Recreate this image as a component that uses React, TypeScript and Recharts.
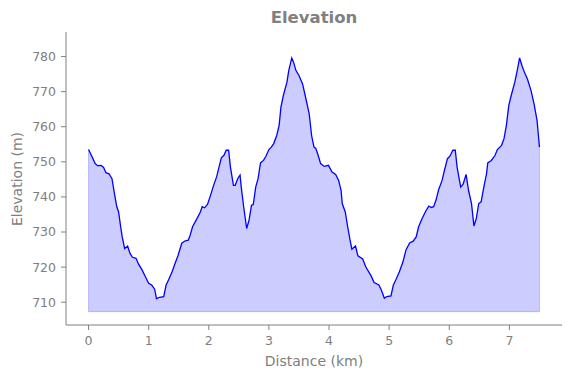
import React from 'react';
import {
  ComposedChart,
  Area,
  Line,
  XAxis,
  YAxis,
  ReferenceLine,
} from 'recharts';

// distance along the track (km) and elevation (m)
const distanceKm = [
  0, 0.06, 0.11, 0.15, 0.21, 0.25, 0.29, 0.34, 0.39, 0.43, 0.47, 0.5, 0.53, 0.56, 0.6, 0.65,
  0.69, 0.73, 0.79, 0.83, 0.89, 0.95, 1.0, 1.05, 1.1, 1.13, 1.18, 1.25, 1.29, 1.33, 1.39, 1.44,
  1.49, 1.55, 1.61, 1.66, 1.69, 1.73, 1.79, 1.86, 1.89, 1.93, 1.98, 2.03, 2.08, 2.13, 2.17, 2.21,
  2.25, 2.29, 2.33, 2.36, 2.41, 2.44, 2.48, 2.52, 2.54, 2.58, 2.63, 2.67, 2.71, 2.74, 2.78, 2.82,
  2.86, 2.91, 2.95, 3.0, 3.04, 3.08, 3.13, 3.17, 3.2, 3.24, 3.3, 3.33, 3.38, 3.41, 3.45, 3.5,
  3.56, 3.61, 3.67, 3.71, 3.75, 3.78, 3.82, 3.86, 3.92, 3.99, 4.05, 4.11, 4.16, 4.2, 4.22, 4.27,
  4.31, 4.35, 4.38, 4.44, 4.48, 4.56, 4.61, 4.7, 4.75, 4.83, 4.87, 4.92, 4.96, 5.03, 5.07, 5.11,
  5.17, 5.23, 5.28, 5.34, 5.4, 5.45, 5.49, 5.55, 5.61, 5.66, 5.7, 5.74, 5.78, 5.82, 5.88, 5.92,
  5.97, 6.01, 6.06, 6.1, 6.13, 6.19, 6.23, 6.28, 6.32, 6.37, 6.41, 6.45, 6.49, 6.53, 6.58, 6.62,
  6.64, 6.7, 6.76, 6.8, 6.87, 6.91, 6.95, 6.99, 7.03, 7.09, 7.13, 7.17, 7.21, 7.25, 7.3, 7.36,
  7.41, 7.46, 7.48, 7.5,
];

const elevationM = [
  753.5, 751.4, 749.5, 748.9, 749.0, 748.4, 746.9, 746.6, 745.2, 741.0, 737.2, 735.7, 732.0, 728.6, 725.3, 726.0,
  723.9, 722.8, 722.5, 720.9, 719.2, 717.1, 715.4, 714.9, 713.7, 711.0, 711.4, 711.6, 714.9, 716.3, 718.7, 721.1,
  723.4, 726.8, 727.5, 727.7, 729.1, 731.5, 733.4, 735.7, 737.2, 736.9, 737.9, 740.5, 743.3, 745.7, 748.5, 751.2,
  751.8, 753.3, 753.3, 748.5, 743.3, 743.3, 745.2, 746.2, 742.8, 737.2, 731.0, 733.4, 737.6, 737.8, 742.8, 745.2,
  749.7, 750.4, 751.6, 753.5, 754.2, 755.2, 757.5, 760.4, 765.6, 768.9, 772.7, 776.0, 779.6, 778.4, 776.0, 774.6,
  772.2, 768.4, 763.7, 757.5, 754.2, 753.8, 751.8, 749.5, 748.7, 749.0, 747.1, 746.4, 744.7, 741.9, 738.1, 735.7,
  731.5, 727.7, 725.1, 726.0, 723.2, 722.3, 720.1, 717.5, 715.6, 714.9, 713.5, 711.1, 711.6, 711.8, 714.9, 716.3,
  718.7, 721.5, 724.9, 726.9, 727.4, 728.6, 731.5, 733.9, 736.0, 737.4, 737.0, 737.2, 739.1, 741.9, 744.7, 747.6,
  750.9, 751.6, 753.3, 753.3, 748.5, 742.8, 743.6, 746.4, 741.9, 738.1, 731.7, 733.9, 738.1, 738.6, 743.3, 746.6,
  749.7, 750.4, 751.8, 753.5, 754.7, 756.6, 760.4, 766.1, 768.9, 772.7, 776.0, 779.6, 777.4, 775.5, 773.6, 770.3,
  766.5, 761.8, 758.0, 754.2,
];

const xTicks = [0, 1, 2, 3, 4, 5, 6, 7];
const yTicks = [710, 720, 730, 740, 750, 760, 770, 780];

const FILL_BASE = 707.3;
const GRAY = '#808080';
const FONT = '"DejaVu Sans", sans-serif';

const data = distanceKm.map((d, i) => ({ d, e: elevationM[i] }));
const first = data[0];
const last = data[data.length - 1];

const textStyle: React.CSSProperties = {
  position: 'absolute',
  fontFamily: FONT,
  color: GRAY,
  whiteSpace: 'nowrap',
  lineHeight: 1,
};

export default function App() {
  return (
    <div style={{ position: 'absolute', left: 0, top: 0, width: 571, height: 378, background: '#fff' }}>
      <ComposedChart
        width={571}
        height={378}
        data={data}
        margin={{ top: 32, right: 9, bottom: 0, left: 8 }}
      >
        <XAxis
          dataKey="d"
          type="number"
          domain={[-0.375, 7.875]}
          ticks={xTicks}
          allowDataOverflow
          height={53}
          stroke={GRAY}
          tickSize={5}
          tickMargin={6}
          tick={{ fill: GRAY, fontSize: 12.5, fontFamily: FONT }}
        />
        <YAxis
          type="number"
          domain={[703.5, 787]}
          ticks={yTicks}
          allowDataOverflow
          width={58}
          stroke={GRAY}
          tickSize={5}
          tickMargin={5}
          tick={{ fill: GRAY, fontSize: 12.5, fontFamily: FONT }}
        />
        <Area
          type="linear"
          dataKey="e"
          baseValue={FILL_BASE}
          fill="#0000ff"
          fillOpacity={0.2}
          stroke="none"
          isAnimationActive={false}
        />
        <ReferenceLine
          segment={[{ x: first.d, y: FILL_BASE }, { x: last.d, y: FILL_BASE }]}
          stroke="#0000ff"
          strokeOpacity={0.2}
        />
        <ReferenceLine
          segment={[{ x: first.d, y: FILL_BASE }, { x: first.d, y: first.e }]}
          stroke="#0000ff"
          strokeOpacity={0.2}
        />
        <ReferenceLine
          segment={[{ x: last.d, y: FILL_BASE }, { x: last.d, y: last.e }]}
          stroke="#0000ff"
          strokeOpacity={0.2}
        />
        <Line
          type="linear"
          dataKey="e"
          stroke="#0000ff"
          strokeWidth={1.3}
          dot={false}
          isAnimationActive={false}
        />
      </ComposedChart>
      <div style={{ ...textStyle, left: 0, width: 628, top: 10, textAlign: 'center', fontSize: 16.5, fontWeight: 'bold' }}>
        Elevation
      </div>
      <div style={{ ...textStyle, left: 0, width: 628, top: 354, textAlign: 'center', fontSize: 14 }}>
        Distance (km)
      </div>
      <div
        style={{
          ...textStyle,
          left: 17,
          top: 178.5,
          fontSize: 14,
          transform: 'translate(-50%, -50%) rotate(-90deg)',
        }}
      >
        Elevation (m)
      </div>
    </div>
  );
}
